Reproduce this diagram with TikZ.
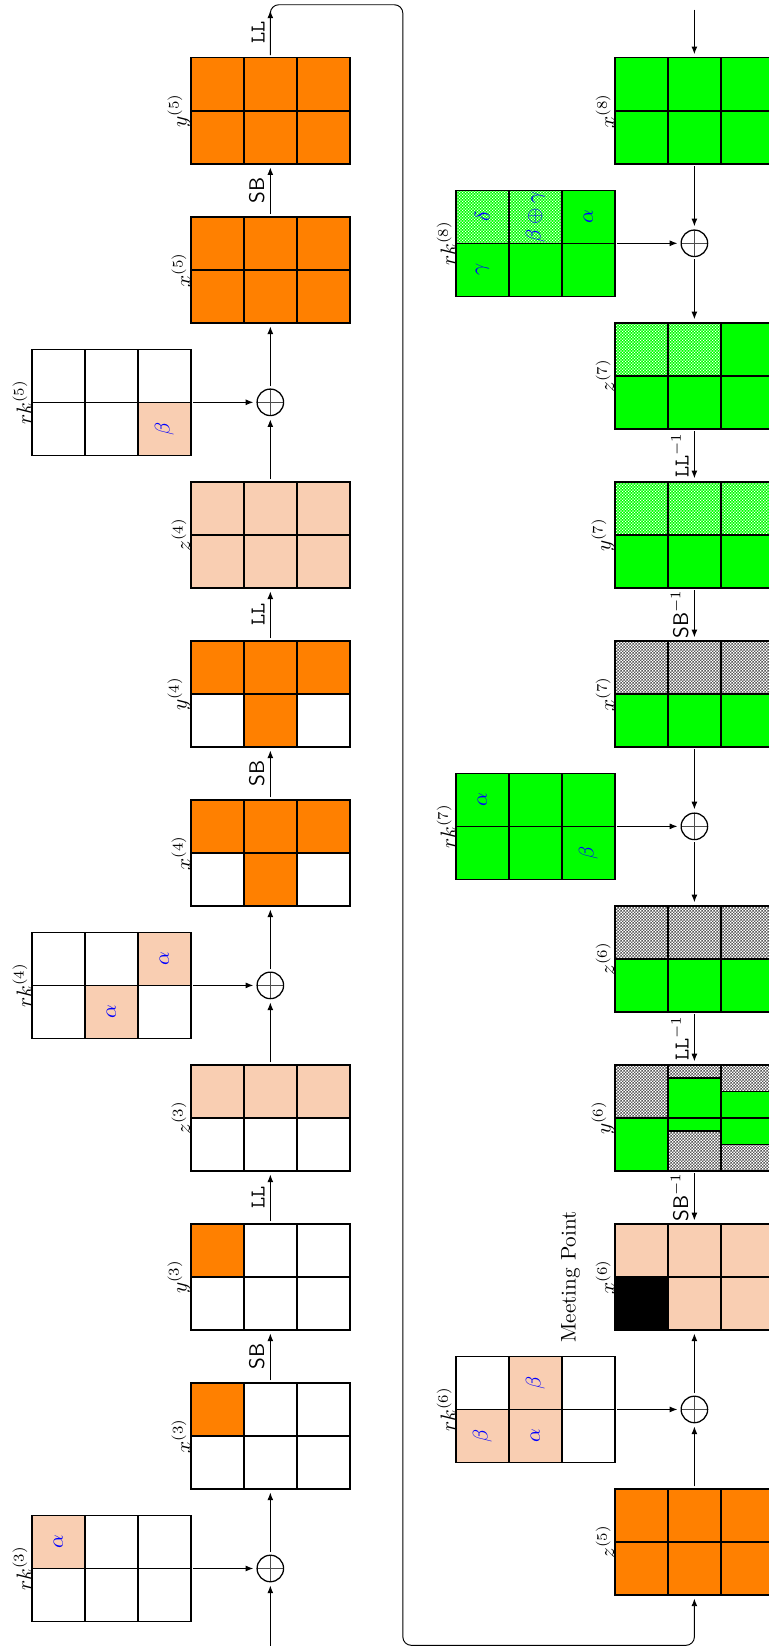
\documentclass[tikz,border=0pt]{standalone}
\usepackage{tikz}
\usetikzlibrary{arrows.meta, patterns}
\definecolor{cFull}{HTML}{FF8000}
\definecolor{cHalf}{HTML}{F9CEB2}
\definecolor{cKnown}{HTML}{00FF00}
\definecolor{cKey}{HTML}{0000FF}

% fine textures used for the partly known / unknown cells
\pgfdeclarepatternformonly{finechecker}{\pgfpointorigin}{\pgfqpoint{1.4pt}{1.4pt}}{\pgfqpoint{1.4pt}{1.4pt}}{%
  \pgfpathrectangle{\pgfpointorigin}{\pgfqpoint{0.7pt}{0.7pt}}%
  \pgfpathrectangle{\pgfqpoint{0.7pt}{0.7pt}}{\pgfqpoint{0.7pt}{0.7pt}}%
  \pgfusepath{fill}}
\pgfdeclarepatternformonly{finedots}{\pgfpointorigin}{\pgfqpoint{1.4pt}{1.4pt}}{\pgfqpoint{1.4pt}{1.4pt}}{%
  \pgfpathrectangle{\pgfpointorigin}{\pgfqpoint{0.5pt}{0.5pt}}%
  \pgfpathrectangle{\pgfqpoint{0.7pt}{0.7pt}}{\pgfqpoint{0.5pt}{0.5pt}}%
  \pgfusepath{fill}}

\begin{document}
\begin{tikzpicture}[
    x=0.88cm, y=0.88cm, rotate=90, transform shape,
    cellline/.style={draw=black, line width=0.7pt},
    full/.style={fill=cFull},
    half/.style={fill=cHalf},
    known/.style={fill=cKnown},
    part/.style={preaction={fill=cKnown}, pattern=finedots, pattern color=white},
    unk/.style={pattern=finechecker, pattern color=black!65},
    state/.style={minimum width=1.76cm, minimum height=2.64cm, inner sep=0pt},
    slab/.style={inner sep=0pt, anchor=south},
    key/.style={text=cKey, inner sep=1pt},
    xorop/.style={circle, draw, line width=0.6pt, minimum size=0.44cm,
                  inner sep=0pt,
                  path picture={\draw[line width=0.4pt, black!70]
                    (path picture bounding box.north) -- (path picture bounding box.south)
                    (path picture bounding box.west) -- (path picture bounding box.east);}},
    flow/.style={-{Latex[length=3.6pt, width=2.8pt]}, line width=0.45pt,
                 shorten >=1.5pt, shorten <=1pt},
    sblbl/.style={font=\sffamily, inner sep=2.5pt},
    lllbl/.style={font=\ttfamily, inner sep=2.5pt},
]

\useasboundingbox (0,0.094) rectangle (31.09,14.6);

% ===========================================================================
% cell colours
% ===========================================================================
% ----- full (orange) -----
\foreach \x/\y in {4/10, 7/10, 15/8, 15/9, 15/10, 14/9, 18/8, 18/9, 18/10, 17/9}
    \fill[full] (\x,\y) rectangle ++(1,1);
\fill[full] (25,8) rectangle ++(2,3);
\fill[full] (28,8) rectangle ++(2,3);
\fill[full] (1,0) rectangle ++(2,3);

% ----- half (peach) -----
\foreach \x/\y in {1.5/13, 12.5/11, 11.5/12, 22.5/11, 3.5/5, 3.5/4, 4.5/4}
    \fill[half] (\x,\y) rectangle ++(1,1);
\fill[half] (10,8) rectangle ++(1,3);
\fill[half] (20,8) rectangle ++(2,3);
\fill[half] (6,0) rectangle ++(2,3);
\fill[black] (6,2) rectangle ++(1,1);

% ----- known (green) -----
\fill[known] (28,0) rectangle ++(2,3);
\fill[known] (25.5,3) rectangle ++(1,3);
\fill[known] (26.5,3) rectangle ++(1,1);
\fill[known] (23,0) rectangle ++(1,3);
\fill[known] (24,0) rectangle ++(1,1);
\fill[known] (20,0) rectangle ++(1,3);
\fill[known] (17,0) rectangle ++(1,3);
\fill[known] (14.5,3) rectangle ++(2,3);
\fill[known] (12,0) rectangle ++(1,3);
\fill[known] (9,2) rectangle ++(1,1);
\fill[known] (9.75,1) rectangle ++(1,1);
\fill[known] (9.5,0) rectangle ++(1,1);

% ----- partly known / unknown -----
\path[part] (26.5,4) rectangle ++(1,2);
\path[part] (24,1) rectangle ++(1,2);
\path[part] (21,0) rectangle ++(1,3);
\path[unk] (18,0) rectangle ++(1,3);
\path[unk] (13,0) rectangle ++(1,3);
\path[unk] (10,2) rectangle ++(1,1);
\path[unk] (9,1) rectangle ++(0.75,1);
\path[unk] (10.75,1) rectangle ++(0.25,1);
\path[unk] (9,0) rectangle ++(0.5,1);
\path[unk] (10.5,0) rectangle ++(0.5,1);

% ===========================================================================
% states (2 x 3 cells)
% ===========================================================================
\foreach \n/\x/\y/\lab in {rk3/0.5/11/rk^{(3)}, x3/3/8/x^{(3)}, y3/6/8/y^{(3)},
        z3/9/8/z^{(3)}, rk4/11.5/11/rk^{(4)}, x4/14/8/x^{(4)}, y4/17/8/y^{(4)},
        z4/20/8/z^{(4)}, rk5/22.5/11/rk^{(5)}, x5/25/8/x^{(5)}, y5/28/8/y^{(5)},
        x8/28/0/x^{(8)}, rk8/25.5/3/rk^{(8)}, z7/23/0/z^{(7)}, y7/20/0/y^{(7)},
        x7/17/0/x^{(7)}, rk7/14.5/3/rk^{(7)}, z6/12/0/z^{(6)}, y6/9/0/y^{(6)},
        x6/6/0/x^{(6)}, rk6/3.5/3/rk^{(6)}, z5/1/0/z^{(5)}} {
    \foreach \a in {0,1}
        \foreach \b in {0,1,2}
            \draw[cellline] (\x+\a,\y+\b) rectangle ++(1,1);
    \node[state] (\n) at (\x+1,\y+1.5) {};
    \node[slab] (\n-lab) at (\x+1,\y+3) {$\lab$};
}
% split cells of y(6)
\draw[cellline] (9.75,1) -- (9.75,2) (10.75,1) -- (10.75,2)
                (9.5,0) -- (9.5,1) (10.5,0) -- (10.5,1);

\node[anchor=base] (meet) at (7,3.74) {Meeting Point};

% ----- key bytes -----
\node[key] (k3a) at (2,13.5) {$\alpha$};
\node[key] (k4a) at (13,11.5) {$\alpha$};
\node[key] (k4b) at (12,12.5) {$\alpha$};
\node[key] (k5a) at (23,11.5) {$\beta$};
\node[key] (k8a) at (27,5.5) {$\delta$};
\node[key] (k8b) at (27,4.5) {$\beta\oplus\gamma$};
\node[key] (k8c) at (27,3.5) {$\alpha$};
\node[key] (k8d) at (26,5.5) {$\gamma$};
\node[key] (k7a) at (16,5.5) {$\alpha$};
\node[key] (k7b) at (15,3.5) {$\beta$};
\node[key] (k6a) at (4,5.5) {$\beta$};
\node[key] (k6b) at (4,4.5) {$\alpha$};
\node[key] (k6c) at (5,4.5) {$\beta$};

% ===========================================================================
% forward rounds 3--5
% ===========================================================================
\coordinate (in3) at (0,9.5);
\coordinate (ll5) at (30.95,9.5);
\node[xorop] (xor3) at (1.5,9.5) {};
\node[xorop] (xor4) at (12.5,9.5) {};
\node[xorop] (xor5) at (23.5,9.5) {};

\draw[flow] (in3) -- (xor3);
\draw[flow] (rk3) -- (xor3);
\draw[flow] (xor3) -- (x3);
\draw[flow] (x3) -- node[sblbl, above] (sb3) {SB} (y3);
\draw[flow] (y3) -- node[lllbl, above] (ll3) {LL} (z3);
\draw[flow] (z3) -- (xor4);
\draw[flow] (rk4) -- (xor4);
\draw[flow] (xor4) -- (x4);
\draw[flow] (x4) -- node[sblbl, above] (sb4) {SB} (y4);
\draw[flow] (y4) -- node[lllbl, above] (ll4) {LL} (z4);
\draw[flow] (z4) -- (xor5);
\draw[flow] (rk5) -- (xor5);
\draw[flow] (xor5) -- (x5);
\draw[flow] (x5) -- node[sblbl, above] (sb5) {SB} (y5);
\draw[flow] (y5) -- node[lllbl, above] (ll5l) {LL} (ll5);

% ----- back to z(5) -----
\draw[flow, rounded corners] (y5) -- (31,9.5) -- (31,7) -- (0.05,7)
      -- (0.05,1.5) -- (z5);

% ===========================================================================
% rounds 5--8
% ===========================================================================
\coordinate (in8) at (30.95,1.5);
\node[xorop] (xor8) at (26.5,1.5) {};
\node[xorop] (xor7) at (15.5,1.5) {};
\node[xorop] (xor6) at (4.5,1.5) {};

\draw[flow] (in8) -- (x8);
\draw[flow] (x8) -- (xor8);
\draw[flow] (rk8) -- (xor8);
\draw[flow] (xor8) -- (z7);
\draw[flow] (z7) -- node[lllbl, above] (ll7) {LL$^{-1}$} (y7);
\draw[flow] (y7) -- node[sblbl, above] (sb7) {SB$^{-1}$} (x7);
\draw[flow] (x7) -- (xor7);
\draw[flow] (rk7) -- (xor7);
\draw[flow] (xor7) -- (z6);
\draw[flow] (z6) -- node[lllbl, above] (ll6) {LL$^{-1}$} (y6);
\draw[flow] (y6) -- node[sblbl, above] (sb6) {SB$^{-1}$} (x6);
\draw[flow] (z5) -- (xor6);
\draw[flow] (rk6) -- (xor6);
\draw[flow] (xor6) -- (x6);

\end{tikzpicture}
\end{document}
